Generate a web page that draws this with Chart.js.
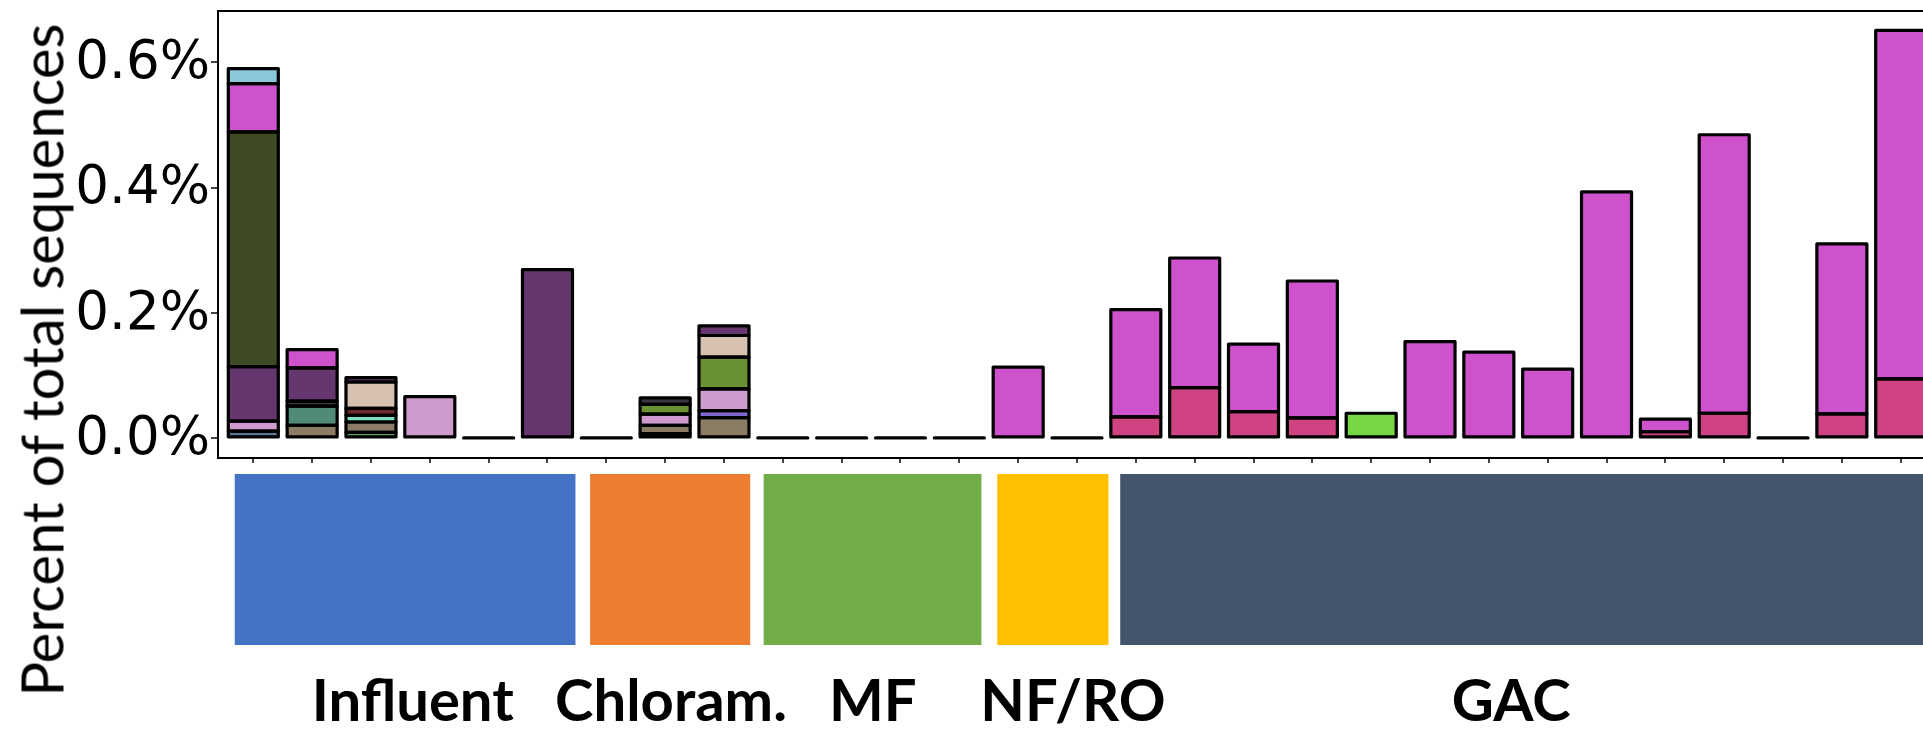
<!DOCTYPE html>
<html>
<head>
<meta charset="utf-8">
<script src="https://cdn.jsdelivr.net/npm/chart.js@4.4.0/dist/chart.umd.min.js"></script>
<style>
  html, body { margin: 0; padding: 0; background: #fff; overflow: hidden; width: 1923px; height: 733px; }
  #bars { position: absolute; left: 0; top: 0; }
  #strip { position: absolute; left: 0; top: 470px; }
  #ytitle {
    position: absolute; left: 41px; top: 360px;
    transform: translate(-50%, -50%) rotate(-90deg);
    font: 58px Lato, sans-serif; white-space: nowrap; color: #000;
  }
</style>
</head>
<body>
<canvas id="bars" width="1960" height="470"></canvas>
<canvas id="strip" width="1960" height="263"></canvas>
<div id="ytitle">Percent of total sequences</div>
<script>
const N = null;

// one position per sample, left to right
const samples = [0, 1, 2, 3, 4, 5, 6, 7, 8, 9, 10, 11, 12, 13, 14, 15, 16, 17, 18, 19, 20, 21, 22, 23, 24, 25, 26, 27, 28];

// percent of total sequences per taxon (bottom of the stack first)
const red        = [N, N, N, N, N, N, N, 0.007, N, N, N, N, N, N, N, N, N, N, N, N, N, N, N, N, N, N, N, N, N];
const green      = [N, N, 0.009, N, N, N, N, N, N, N, N, N, N, N, N, N, N, N, N, N, N, N, N, N, N, N, N, N, N];
const slate      = [0.011, N, N, N, N, N, N, N, N, N, N, N, N, N, N, N, N, N, N, N, N, N, N, N, N, N, N, N, N];
const taupe      = [N, 0.020, 0.0165, N, N, N, N, 0.013, 0.0325, N, N, N, N, N, N, N, N, N, N, N, N, N, N, N, N, N, N, N, N];
const violet     = [N, N, N, N, N, N, N, N, 0.0112, N, N, N, N, N, N, N, N, N, N, N, N, N, N, N, N, N, N, N, N];
const teal       = [N, 0.031, N, N, N, N, N, N, N, N, N, N, N, N, N, N, N, N, N, N, N, N, N, N, N, N, N, N, N];
const aqua       = [N, N, 0.0107, N, N, N, N, N, N, N, N, N, N, N, N, N, N, N, N, N, N, N, N, N, N, N, N, N, N];
const maroon     = [N, N, 0.0112, N, N, N, N, N, N, N, N, N, N, N, N, N, N, N, N, N, N, N, N, N, N, N, N, N, N];
const lavender   = [0.016, N, N, 0.066, N, N, N, 0.018, 0.0347, N, N, N, N, N, N, N, N, N, N, N, N, N, N, N, N, N, N, N, N];
const leaf       = [N, N, N, N, N, N, N, 0.0155, 0.0507, N, N, N, N, N, N, N, N, N, N, N, N, N, N, N, N, N, N, N, N];
const charcoal   = [N, 0.008, N, N, N, N, N, 0.0106, N, N, N, N, N, N, N, N, N, N, N, N, N, N, N, N, N, N, N, N, N];
const beige      = [N, N, 0.042, N, N, N, N, N, 0.0346, N, N, N, N, N, N, N, N, N, N, N, N, N, N, N, N, N, N, N, N];
const plum       = [0.087, 0.053, 0.007, N, N, 0.269, N, N, 0.0155, N, N, N, N, N, N, N, N, N, N, N, N, N, N, N, N, N, N, N, N];
const olive      = [0.375, N, N, N, N, N, N, N, N, N, N, N, N, N, N, N, N, N, N, N, N, N, N, N, N, N, N, N, N];
const rose       = [N, N, N, N, N, N, N, N, N, N, N, N, N, N, N, 0.0336, 0.0805, 0.042, 0.032, N, N, N, N, N, 0.010, 0.0395, N, 0.0384, 0.0944];
const magenta    = [0.077, 0.029, N, N, N, N, N, N, N, N, N, N, N, 0.113, N, 0.1714, 0.207, 0.108, 0.2187, N, 0.154, 0.137, 0.110, 0.393, 0.020, 0.4448, N, 0.2716, 0.5566];
const skyblue    = [0.024, N, N, N, N, N, N, N, N, N, N, N, N, N, N, N, N, N, N, N, N, N, N, N, N, N, N, N, N];
const lime       = [N, N, N, N, N, N, N, N, N, N, N, N, N, N, N, N, N, N, N, 0.0395, N, N, N, N, N, N, N, N, N];
// samples with nothing detected
const empty      = [N, N, N, N, 0, N, 0, N, N, 0, 0, 0, 0, N, 0, N, N, N, N, N, N, N, N, N, N, N, 0, N, N];

const taxonValues = [red, green, slate, taupe, violet, teal, aqua, maroon, lavender, leaf, charcoal, beige, plum, olive, rose, magenta, skyblue, lime, empty];
const taxonColors = ['#ff0000', '#5aa060', '#5b7797', '#8b7d65', '#7b68d0', '#518a76', '#7fdfc3', '#6b2b2e', '#cf9bcf',
                     '#6a9132', '#3a3443', '#d7c2b2', '#66376e', '#3e4a22', '#d04382', '#ce52cb', '#8cc8dc', '#77d844', '#000000'];

const yTicks = [0, 0.2, 0.4, 0.6];

// treatment groups drawn as a strip under the bars
const groups = ['Influent', 'Chloram.', 'MF', 'NF/RO', 'GAC'];
const groupStart = [-0.31, 5.73, 8.68, 12.65, 14.74];
const groupEnd = [5.47, 8.44, 12.37, 14.53, 28.6];
const groupLabelAt = [2.71, 7.10, 10.53, 13.93, 21.38];
const groupColors = ['#4472c4', '#ed7d31', '#70ad47', '#ffc000', '#44546a'];

// panel border
const frame = {
  id: 'frame',
  afterDatasetsDraw(chart) {
    const a = chart.chartArea, ctx = chart.ctx;
    ctx.save();
    ctx.strokeStyle = '#000';
    ctx.lineWidth = 2;
    ctx.strokeRect(a.left, a.top, a.right - a.left, a.bottom - a.top);
    ctx.restore();
  }
};

// black outline centred on each segment edge, like ggplot's colour = "black"
const outlines = {
  id: 'outlines',
  afterDatasetsDraw(chart) {
    const ctx = chart.ctx;
    ctx.save();
    ctx.strokeStyle = '#000';
    ctx.lineWidth = 3.2;
    ctx.lineJoin = 'round';
    chart.data.datasets.forEach((ds, k) => {
      chart.getDatasetMeta(k).data.forEach((el, i) => {
        if (ds.data[i].y === null) return;
        const p = el.getProps(['x', 'y', 'base', 'width'], true);
        ctx.strokeRect(p.x - p.width / 2, Math.min(p.y, p.base), p.width, Math.abs(p.base - p.y));
      });
    });
    ctx.restore();
  }
};

const datasets = taxonValues.map((vals, k) => ({
  label: 'taxon ' + (k + 1),
  data: vals.map((v, i) => ({ x: samples[i], y: v })),
  backgroundColor: taxonColors[k],
  borderWidth: 0
}));

new Chart(document.getElementById('bars'), {
  type: 'bar',
  data: { datasets: datasets },
  options: {
    responsive: false,
    animation: false,
    layout: { padding: { top: 11, right: 24, left: 0, bottom: 0 } },
    datasets: { bar: { barPercentage: 0.85, categoryPercentage: 1 } },
    plugins: { legend: { display: false }, tooltip: { enabled: false } },
    scales: {
      x: {
        type: 'linear', min: -0.6, max: 28.6, stacked: true, offset: false,
        afterBuildTicks: s => { s.ticks = samples.map(v => ({ value: v })); },
        afterFit: s => { s.height = 12; s.paddingLeft = 0; s.paddingRight = 0; },
        ticks: { display: false },
        grid: { offset: false, drawOnChartArea: false, tickLength: 5, color: '#444', lineWidth: 2 },
        border: { display: false }
      },
      y: {
        min: -0.032, max: 0.682, stacked: true,
        afterBuildTicks: s => { s.ticks = yTicks.map(v => ({ value: v })); },
        afterFit: s => { s.width = 218; s.paddingTop = 0; s.paddingBottom = 0; },
        ticks: {
          padding: 1, labelOffset: 2, color: '#000',
          font: { family: 'DejaVu Sans', size: 53 },
          callback: v => v.toFixed(1) + '%'
        },
        grid: { drawOnChartArea: false, tickLength: 7, color: '#444', lineWidth: 2 },
        border: { display: false }
      }
    }
  },
  plugins: [frame, outlines]
});

new Chart(document.getElementById('strip'), {
  type: 'bar',
  data: {
    labels: ['strip'],
    datasets: groups.map((g, i) => ({
      label: g,
      data: [[groupStart[i], groupEnd[i]]],
      backgroundColor: groupColors[i],
      borderWidth: 0,
      grouped: false,
      barPercentage: 1,
      categoryPercentage: 1
    }))
  },
  options: {
    indexAxis: 'y',
    responsive: false,
    animation: false,
    layout: { padding: { left: 218, right: 24, top: 4, bottom: 0 } },
    plugins: { legend: { display: false }, tooltip: { enabled: false } },
    scales: {
      y: { display: false },
      x: {
        type: 'linear', min: -0.6, max: 28.6,
        afterBuildTicks: s => { s.ticks = groupLabelAt.map(v => ({ value: v })); },
        afterFit: s => { s.height = 88; },
        grid: { display: false, drawTicks: false },
        border: { display: false },
        ticks: {
          autoSkip: false, maxRotation: 0, padding: 22, color: '#000',
          font: { family: 'Lato', weight: 'bold', size: 58 },
          callback: (v, i) => groups[i]
        }
      }
    }
  }
});
</script>
</body>
</html>
